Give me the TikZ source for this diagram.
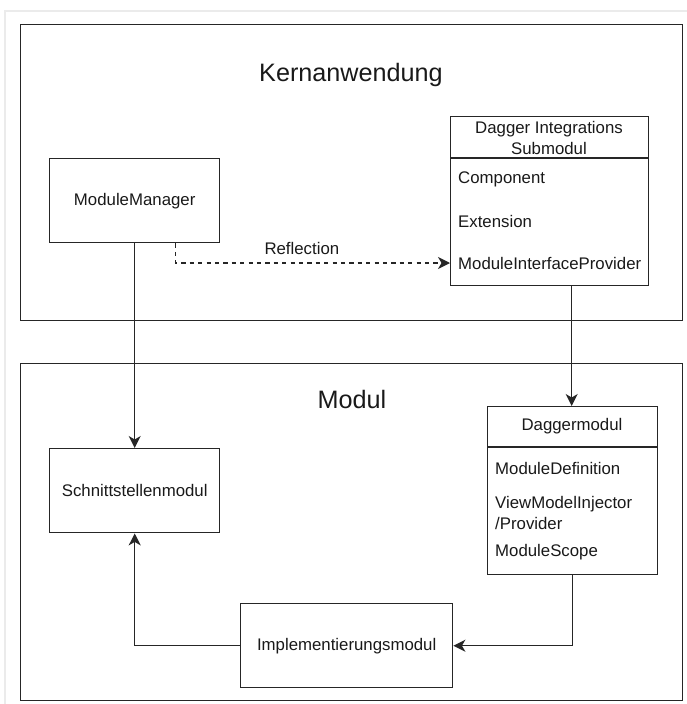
\documentclass[tikz,border=0pt]{standalone}
\usepackage{fontspec}
\setmainfont{Liberation Sans}
\usetikzlibrary{arrows.meta}
\tikzset{
  ink/.style={draw=black!85, line width=1.4pt},
  box/.style={ink, rectangle, inner sep=0pt, anchor=north west},
  lbl/.style={font=\fontsize{16.8}{21}\selectfont, inner sep=0pt, text=black!90},
  title/.style={font=\fontsize{25.2}{30}\selectfont, inner sep=0pt, text=black!90},
  item/.style={lbl, anchor=west},
  link/.style={ink, -{Stealth[length=12pt,width=12pt,inset=3.5pt]}},
}
\begin{document}
\begin{tikzpicture}[x=1pt,y=-1pt]
  \useasboundingbox (0,0) rectangle (687,704);
  % faint page frame
  \draw[black!8, line width=1.2pt] (5,704) -- (5,11) -- (687,11);

  % containers
  \node[box, minimum width=662pt, minimum height=296pt] (kern) at (20,24) {};
  \node[title] (kerntitle) at (351,75) {Kernanwendung};
  \node[box, minimum width=662pt, minimum height=337pt] (modul) at (20,363) {};
  \node[title] (modultitle) at (352,399) {Modul};

  % plain boxes
  \node[box, minimum width=170pt, minimum height=84pt] (mm) at (49,158) {};
  \node[lbl] at (mm.center) {ModuleManager};
  \node[box, minimum width=170pt, minimum height=84pt] (schn) at (49,448) {};
  \node[lbl] at (schn.center) {Schnittstellenmodul};
  \node[box, minimum width=212pt, minimum height=84pt] (impl) at (240,603) {};
  \node[lbl] at (impl.center) {Implementierungsmodul};

  % Dagger integration list box
  \node[box, minimum width=198pt, minimum height=169pt] (dis) at (450,116) {};
  \draw[ink] (450,158) -- (648,158);
  \node[lbl, align=center] (dishead) at (549,137.5) {Dagger Integrations\\Submodul};
  \node[item] (comp) at (458,179) {Component};
  \node[item] (ext) at (458,221) {Extension};
  \node[item] (mip) at (458,263) {ModuleInterfaceProvider};

  % Daggermodul list box
  \node[box, minimum width=170pt, minimum height=168pt] (dm) at (487,406) {};
  \draw[ink] (487,447) -- (657,447);
  \node[lbl] (dmhead) at (572,426.5) {Daggermodul};
  \node[item] (mdef) at (495,468) {ModuleDefinition};
  \node[item, align=left] (vmi) at (495,512.5) {ViewModelInjector\\/Provider};
  \node[item] (mscope) at (495,552) {ModuleScope};

  % connectors
  \draw[link] (mm.south) -- (schn.north);
  \draw[link, dash pattern=on 4.2pt off 4.2pt] ([xshift=41pt]mm.south) |- (mip -| dis.west)
    node[lbl, pos=0.73, above=8pt] (refl) {Reflection};
  \draw[link] ([xshift=22pt]dis.south) -- ([xshift=22pt]dis.south |- dm.north);
  \draw[link] (dm.south) |- (impl.east);
  \draw[link] (impl.west) -| (schn.south);
\end{tikzpicture}
\end{document}
